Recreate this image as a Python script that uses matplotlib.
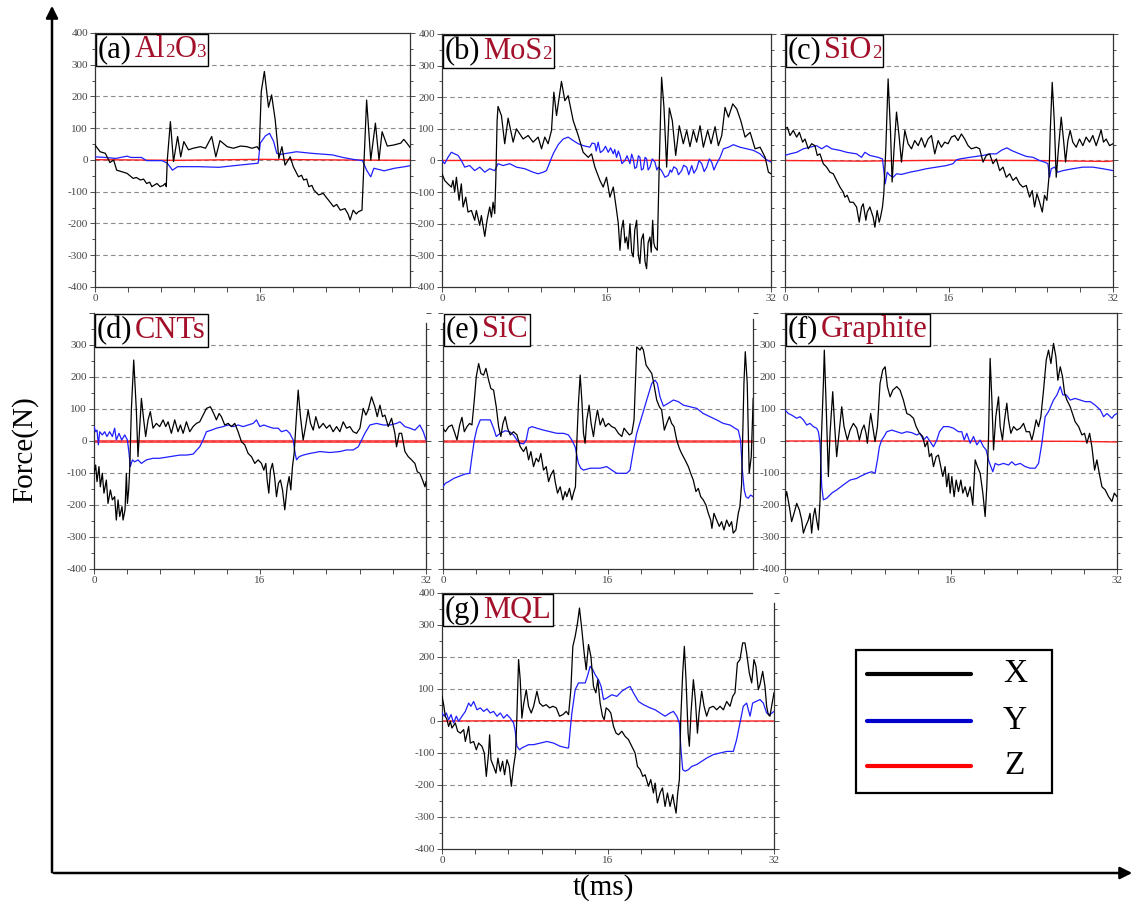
import matplotlib
matplotlib.use("Agg")
import matplotlib.pyplot as plt
import numpy as np
from matplotlib.lines import Line2D
from matplotlib.patches import FancyArrowPatch, Rectangle
from matplotlib.offsetbox import TextArea, HPacker, AnchoredOffsetbox

# ---------- data: (t in ms, force in N) ----------
A_X = [(0, 47), (0.5, 26), (1.0, 21), (1.45, -8), (1.8, 0), (2.1, -32), (2.6, -37), (3.1, -42), (3.4, -50),
       (3.7, -58), (4.0, -55), (4.4, -63), (4.7, -60), (5.0, -74), (5.3, -70), (5.5, -84), (6.0, -74),
       (6.3, -84), (6.6, -80), (6.8, -74), (6.9, -84), (7.0, 0), (7.3, 121), (7.6, -5), (8.0, 74), (8.3, 10),
       (8.6, 58), (9.05, 32), (9.5, 37), (10.2, 42), (10.7, 37), (11.3, 74), (11.7, 10), (12.1, 61), (12.8, 42),
       (13.4, 37), (14.1, 44), (14.7, 42), (15.2, 37), (15.7, 42), (15.9, 32), (16.1, 216), (16.4, 279),
       (16.8, 166), (17.1, 205), (17.45, 126), (17.8, 5), (18.1, 42), (18.4, -16), (18.9, 10), (19.2, -21),
       (19.7, -53), (20.0, -48), (20.2, -63), (20.5, -60), (20.7, -84), (21.0, -80), (21.2, -95), (21.65, -110),
       (22.1, -105), (22.4, -118), (22.6, -126), (23.1, -147), (23.4, -140), (23.75, -158), (24.2, -153),
       (24.5, -170), (24.7, -189), (25.0, -158), (25.3, -170), (25.5, -163), (25.85, -158), (26.0, -42),
       (26.3, 189), (26.5, 95), (26.7, 0), (27.15, 116), (27.5, 0), (27.8, 89), (28.3, 44), (28.9, 47),
       (29.6, 53), (29.9, 65), (30.2, 53), (30.5, 40)]
A_Y = [(0, 10), (1.0, 8), (2.0, 5), (3.1, 12), (3.5, 8), (4.5, 8), (5.0, -2), (6.5, -2), (7.0, -10), (7.5, -32),
       (8.0, -21), (10, -21), (12, -23), (14, -16), (15.8, -10), (16.0, 53), (16.5, 76), (16.9, 84), (17.3, 58),
       (17.6, 21), (18, 18), (19.5, 26), (21, 21), (23, 16), (24, 8), (25, 2), (25.9, -2), (26.3, -32),
       (26.7, -53), (27, -26), (28, -34), (29, -26), (30, -21), (30.5, -18)]
A_Z = [(0, 1), (8, -1), (16, 2), (24, 0), (30.5, -1)]

B_X = [(0, -42), (0.26, -63), (0.58, -74), (0.91, -84), (1.07, -63), (1.23, -100), (1.40, -53), (1.66, -126),
       (1.88, -74), (2.05, -147), (2.31, -116), (2.53, -163), (2.86, -158), (3.18, -189), (3.34, -158),
       (3.67, -205), (3.83, -174), (4.16, -240), (4.38, -189), (4.64, -147), (4.81, -179), (4.97, -132),
       (5.13, -168), (5.23, -63), (5.36, 126), (5.45, 171), (5.78, 142), (6.10, 53), (6.43, 134), (6.92, 58),
       (7.24, 100), (7.89, 68), (8.38, 79), (8.86, 58), (9.35, 74), (9.68, 37), (10.0, 74), (10.32, 53),
       (10.65, 95), (10.88, 216), (11.14, 142), (11.62, 250), (11.95, 189), (12.27, 205), (12.76, 126),
       (13.25, 79), (13.73, 26), (14.22, 10), (14.55, 21), (14.87, -21), (15.36, -63), (15.68, -84),
       (16.0, -53), (16.33, -116), (16.66, -84), (16.98, -158), (17.15, -200), (17.31, -284), (17.45, -220),
       (17.63, -189), (17.80, -260), (17.95, -242), (18.1, -280), (18.28, -200), (18.45, -290), (18.60, -305),
       (18.75, -220), (18.93, -189), (19.1, -300), (19.25, -326), (19.4, -250), (19.58, -232), (19.75, -320),
       (19.90, -342), (20.05, -260), (20.23, -242), (20.35, -290), (20.49, -189), (20.6, -260), (20.71, -274),
       (20.94, -284), (21.14, 0), (21.36, 263), (21.59, 168), (21.85, -21), (22.11, 166), (22.40, 126),
       (22.73, 16), (23.08, 110), (23.47, 53), (23.80, 95), (24.12, 44), (24.45, 95), (24.77, 58),
       (25.10, 110), (25.42, 42), (25.84, 95), (26.17, 53), (26.56, 107), (26.88, 47), (27.21, 79),
       (27.53, 168), (27.86, 137), (28.28, 179), (28.67, 163), (29.06, 126), (29.48, 74), (29.97, 89),
       (30.45, 37), (30.94, 42), (31.43, 10), (31.75, -37), (32, -42)]
B_Y = [(0, 0), (0.26, -10), (0.58, 10), (0.91, 26), (1.23, 21), (1.56, 16), (1.88, 0), (2.21, -21),
       (2.69, -16), (3.18, -32), (3.67, -21), (4.16, -37), (4.64, -26), (5.13, -32), (5.45, -10), (5.94, -16),
       (6.59, -10), (7.24, -21), (8.05, -26), (8.86, -37), (9.35, -42), (9.84, -37), (10.16, -32), (10.49, -5),
       (10.81, 21), (11.30, 50), (11.79, 68), (12.27, 74), (12.76, 63), (13.25, 53), (13.73, 47), (14.38, 42),
       (14.6, 55), (14.87, 53), (15.0, 30), (15.19, 58), (15.4, 25), (15.68, 32), (15.9, 45), (16.17, 26),
       (16.4, 40), (16.66, 21), (16.8, 35), (16.98, 10), (17.15, 30), (17.31, 16), (17.5, -10), (17.79, 0),
       (18.0, 15), (18.28, -10), (18.45, 20), (18.60, 5), (18.75, -25), (18.93, -21), (19.1, 15), (19.25, 10),
       (19.4, -30), (19.58, -26), (19.75, 10), (19.90, 5), (20.05, -30), (20.23, -21), (20.45, 5), (20.71, -5),
       (20.9, -30), (21.04, -21), (21.36, -32), (21.69, -53), (22.01, -47), (22.2, -30), (22.34, -37),
       (22.55, -20), (22.82, -26), (23.0, -45), (23.31, -32), (23.5, -15), (23.80, -21), (24.0, -45),
       (24.29, -16), (24.5, -40), (24.77, -26), (25.0, 0), (25.26, -10), (25.5, -35), (25.75, -21),
       (26.0, 5), (26.23, -5), (26.45, -30), (26.72, -10), (27.05, 10), (27.37, 37), (27.86, 42), (28.34, 50),
       (28.99, 42), (29.64, 37), (30.29, 32), (30.94, 21), (31.27, 10), (31.59, 2), (32, -5)]
B_Z = [(0, 0), (8, 1), (16, 0), (24, 1), (32, 0)]

C_X = [(0, 100), (0.23, 105), (0.49, 79), (0.81, 95), (1.14, 74), (1.40, 89), (1.72, 58), (1.95, 68),
       (2.27, 37), (2.60, 53), (2.92, 47), (3.15, 16), (3.41, 21), (3.73, -10), (4.06, -21), (4.38, -37),
       (4.71, -42), (5.03, -63), (5.36, -84), (5.68, -100), (5.84, -116), (6.07, -110), (6.33, -132),
       (6.66, -132), (6.98, -147), (7.24, -195), (7.47, -147), (7.63, -137), (7.89, -189), (8.02, -163),
       (8.28, -147), (8.60, -179), (8.77, -211), (8.99, -158), (9.19, -195), (9.32, -179), (9.51, -147),
       (9.64, -105), (9.84, 42), (10.06, 258), (10.29, 95), (10.45, -68), (10.65, 42), (10.88, 153),
       (11.14, 74), (11.36, -5), (11.69, 95), (12.01, 53), (12.34, 37), (12.66, 63), (12.99, 47), (13.31, 72),
       (13.64, 42), (13.96, 68), (14.29, 79), (14.61, 21), (14.94, 63), (15.26, 42), (15.58, 58), (15.91, 53),
       (16.23, 74), (16.56, 79), (16.88, 63), (17.21, 84), (17.53, 68), (17.86, 47), (18.18, 37), (18.67, 42),
       (18.99, 37), (19.32, -5), (19.64, 16), (19.97, 21), (20.29, -10), (20.62, 5), (20.94, -32), (21.27, -21),
       (21.59, -53), (21.92, -42), (22.24, -63), (22.56, -53), (22.89, -74), (23.21, -84), (23.54, -79),
       (23.86, -116), (24.12, -95), (24.35, -147), (24.58, -105), (24.84, -132), (25.10, -163), (25.32, -110),
       (25.55, -126), (25.75, -53), (25.88, 95), (26.07, 247), (26.27, 126), (26.46, -53), (26.69, 42),
       (26.95, 137), (27.18, 63), (27.37, -5), (27.60, 63), (27.82, 95), (28.08, 58), (28.41, 42), (28.73, 68),
       (29.06, 47), (29.38, 74), (29.71, 58), (30.03, 79), (30.36, 47), (30.68, 79), (30.84, 97), (31.07, 58),
       (31.33, 68), (31.66, 47), (32, 53)]
C_Y = [(0, 16), (0.49, 21), (1.14, 26), (1.79, 37), (2.44, 42), (3.08, 47), (3.57, 37), (4.06, 47), (4.55, 37),
       (5.36, 32), (6.01, 26), (6.98, 21), (7.47, 10), (7.79, 26), (8.28, 16), (9.09, 10), (9.51, 5),
       (9.64, -32), (9.77, -74), (9.97, -37), (10.23, -47), (10.55, -53), (10.88, -42), (11.36, -44),
       (12.18, -37), (12.99, -32), (13.80, -26), (14.77, -21), (15.75, -16), (16.40, -10), (16.72, 2),
       (17.05, 5), (18.02, 10), (18.67, 13), (19.32, 16), (19.97, 21), (20.62, 21), (21.10, 32), (21.43, 37),
       (21.66, 40), (22.08, 32), (22.89, 21), (23.54, 13), (24.19, 10), (24.84, 0), (25.32, -5), (25.65, -10),
       (25.81, -53), (25.97, -26), (26.30, -21), (26.62, -37), (27.11, -32), (28.08, -26), (29.06, -21),
       (30.03, -21), (31.01, -26), (32, -32)]
C_Z = [(0, 0), (7.5, -2), (16, 1), (24, 0), (31.5, -3), (32, -1)]

D_X = [(0, -101), (0.16, -75), (0.29, -127), (0.48, -80), (0.61, -143), (0.80, -101), (0.96, -163),
       (1.19, -122), (1.35, -195), (1.58, -153), (1.77, -184), (1.99, -174), (2.15, -247), (2.32, -184),
       (2.48, -236), (2.70, -205), (2.80, -247), (2.99, -215), (3.12, -101), (3.22, -195), (3.34, -153),
       (3.44, -91), (3.60, 97), (3.83, 253), (4.08, 97), (4.24, -49), (4.41, 45), (4.57, 133), (4.79, 66),
       (4.98, 14), (5.21, 66), (5.43, 92), (5.69, 40), (6.01, 55), (6.33, 45), (6.66, 66), (6.91, 45),
       (7.14, 60), (7.46, 24), (7.78, 66), (8.10, 29), (8.33, 50), (8.59, 24), (8.91, 60), (9.23, 29),
       (9.55, 45), (9.87, 55), (10.19, 60), (10.51, 81), (10.84, 102), (11.22, 107), (11.54, 86), (11.80, 66),
       (12.06, 86), (12.28, 76), (12.60, 50), (12.93, 55), (13.25, 45), (13.57, 55), (13.89, 29), (14.21, -2),
       (14.53, -12), (14.86, -39), (15.18, -49), (15.50, -70), (15.82, -59), (16.14, -70), (16.37, -91),
       (16.56, -70), (16.69, -122), (16.85, -163), (17.01, -91), (17.20, -70), (17.40, -111), (17.59, -174),
       (17.78, -132), (17.97, -122), (18.17, -153), (18.39, -215), (18.62, -143), (18.81, -111), (18.97, -153),
       (19.13, -80), (19.29, -39), (19.45, 45), (19.68, 159), (19.90, 76), (20.16, 3), (20.39, 45), (20.64, 97),
       (20.87, 55), (21.13, 34), (21.38, 76), (21.70, 40), (22.09, 55), (22.41, 40), (22.73, 50), (23.05, 29),
       (23.38, 45), (23.70, 29), (24.02, 60), (24.34, 40), (24.66, 45), (24.98, 29), (25.31, 24), (25.63, 40),
       (25.95, 102), (26.21, 81), (26.43, 97), (26.75, 138), (27.07, 107), (27.30, 76), (27.56, 112),
       (27.81, 76), (28.04, 81), (28.36, 45), (28.68, 71), (29.00, 24), (29.16, -18), (29.42, 24), (29.65, 24),
       (29.97, -33), (30.29, -49), (30.61, -59), (30.93, -70), (31.16, -96), (31.41, -101), (31.67, -122),
       (31.90, -143), (32, -127)]
D_Y = [(0, 45), (0.16, 29), (0.29, 34), (0.42, -12), (0.55, 29), (0.80, 19), (1.03, 29), (1.25, 14), (1.51, 29),
       (1.77, 14), (1.99, 40), (2.15, 3), (2.41, 24), (2.67, 3), (2.96, 19), (3.22, 3), (3.38, -39), (3.50, -80),
       (3.70, -59), (3.92, -65), (4.24, -59), (4.57, -70), (5.05, -59), (5.69, -54), (6.33, -54), (7.30, -49),
       (8.26, -44), (8.91, -44), (9.55, -41), (10.19, -18), (10.51, 3), (10.84, 29), (11.32, 34), (11.80, 40),
       (12.44, 45), (12.93, 50), (13.41, 45), (13.89, 50), (14.37, 45), (14.86, 50), (15.34, 55), (15.66, 66),
       (15.98, 45), (16.37, 50), (16.78, 45), (17.27, 40), (17.75, 40), (18.07, 29), (18.55, 34), (18.87, 24),
       (19.20, 3), (19.39, -39), (19.52, -59), (19.77, -49), (20.16, -44), (20.80, -39), (21.77, -33),
       (22.73, -36), (23.70, -33), (24.34, -28), (24.98, -28), (25.47, -18), (25.79, 3), (26.11, 24),
       (26.59, 50), (27.23, 55), (27.88, 50), (28.52, 50), (29.16, 55), (29.49, 60), (29.97, 45), (30.45, 40),
       (30.93, 34), (31.41, 50), (31.74, 29), (32, 3)]
D_Z = [(0, 0), (16, 0), (32, 0)]

E_X = [(0, 40), (0.23, 29), (0.55, 45), (0.87, 50), (1.10, 29), (1.36, 3), (1.62, 50), (1.84, 74), (2.07, 29),
       (2.33, 45), (2.59, 55), (2.81, 50), (3.04, 128), (3.23, 201), (3.46, 242), (3.68, 211), (3.94, 206),
       (4.17, 227), (4.43, 190), (4.65, 164), (4.91, 159), (5.17, 107), (5.40, 45), (5.62, 14), (5.82, 55),
       (6.04, 76), (6.27, 40), (6.53, 19), (6.85, 29), (7.18, 19), (7.50, -18), (7.82, -33), (8.08, -18),
       (8.31, -59), (8.53, -33), (8.79, -80), (9.05, -54), (9.28, -65), (9.50, -39), (9.76, -91), (10.02, -80),
       (10.25, -127), (10.47, -106), (10.73, -91), (10.89, -127), (11.12, -163), (11.38, -143), (11.64, -184),
       (11.86, -158), (12.02, -174), (12.28, -148), (12.51, -184), (12.67, -163), (12.86, -143), (12.99, -7),
       (13.15, 118), (13.32, 206), (13.48, 128), (13.64, 24), (13.80, -7), (13.96, 66), (14.19, 112),
       (14.38, 55), (14.61, 14), (14.77, 55), (15.00, 97), (15.26, 50), (15.51, 71), (15.77, 45), (16.06, 55),
       (16.39, 45), (16.71, 40), (17.03, 24), (17.36, 14), (17.58, 40), (17.84, 29), (18.10, 19), (18.33, 24),
       (18.55, 66), (18.81, 294), (19.13, 284), (19.30, 294), (19.46, 284), (19.72, 237), (20.04, 222),
       (20.27, 211), (20.52, 170), (20.75, 128), (21.01, 107), (21.23, 97), (21.49, 34), (21.72, 55),
       (21.98, 76), (22.20, 55), (22.43, 45), (22.69, 3), (22.95, -23), (23.17, -39), (23.50, -59),
       (23.82, -80), (24.05, -101), (24.30, -122), (24.56, -158), (24.79, -148), (25.02, -174), (25.27, -184),
       (25.53, -200), (25.76, -226), (25.99, -247), (26.11, -273), (26.31, -226), (26.57, -247), (26.83, -267),
       (27.05, -252), (27.28, -278), (27.54, -247), (27.80, -267), (28.02, -252), (28.18, -288), (28.44, -278),
       (28.67, -226), (28.83, -205), (28.99, -137), (29.09, 3), (29.22, 180), (29.35, 279), (29.54, 180),
       (29.73, -101), (29.93, -49), (30.12, 133)]
E_Y = [(0, -143), (0.23, -132), (0.55, -127), (1.03, -117), (1.68, -109), (2.17, -103), (2.59, -101),
       (2.81, -49), (3.04, 3), (3.30, 40), (3.62, 66), (4.10, 66), (4.59, 66), (4.91, 40), (5.17, 14),
       (5.56, 24), (6.04, 32), (6.46, 29), (6.85, 19), (7.18, 3), (7.50, -7), (7.82, -9), (8.08, 3), (8.31, 40),
       (8.63, 45), (9.11, 40), (9.76, 34), (10.41, 29), (11.05, 24), (11.70, 24), (12.18, 19), (12.51, 3),
       (12.83, -18), (13.15, -70), (13.38, -85), (13.64, -91), (14.29, -85), (15.26, -85), (15.90, -80),
       (16.39, -91), (16.87, -101), (17.84, -101), (18.16, -91), (18.49, -28), (18.81, 24), (19.30, 76),
       (19.78, 128), (20.27, 180), (20.59, 190), (20.81, 180), (21.07, 138), (21.40, 109), (21.88, 118),
       (22.37, 128), (22.85, 123), (23.34, 112), (23.98, 107), (24.63, 102), (25.27, 86), (25.92, 76),
       (26.57, 66), (27.21, 55), (27.86, 50), (28.35, 40), (28.67, 34), (28.89, 3), (29.09, -101),
       (29.25, -153), (29.41, -174), (29.64, -179), (29.86, -169), (30.12, -174)]
E_Z = [(0, 0), (15, 0), (30.1, 0)]

F_X = [(0, -184), (0.16, -158), (0.42, -205), (0.64, -252), (0.87, -226), (1.13, -195), (1.38, -215),
       (1.61, -247), (1.77, -288), (1.99, -267), (2.25, -247), (2.41, -226), (2.57, -288), (2.73, -236),
       (2.89, -210), (3.05, -247), (3.22, -278), (3.38, -184), (3.50, 3), (3.70, 180), (3.79, 284), (3.95, 128),
       (4.18, -111), (4.34, 24), (4.60, 154), (4.79, 45), (4.98, -49), (5.24, 34), (5.47, 107), (5.69, 45),
       (6.01, 3), (6.27, 34), (6.59, 55), (6.91, 40), (7.17, 3), (7.40, 34), (7.62, 50), (7.81, 24), (7.94, -7),
       (8.14, 55), (8.26, 86), (8.46, 45), (8.68, -2), (8.91, 45), (9.16, 180), (9.42, 222), (9.65, 232),
       (9.87, 170), (10.13, 138), (10.39, 159), (10.77, 170), (11.09, 159), (11.41, 128), (11.74, 86),
       (12.06, 81), (12.38, 71), (12.64, 45), (12.96, 24), (13.28, 14), (13.50, -18), (13.73, -2), (13.92, -49),
       (14.12, -39), (14.31, -80), (14.57, -49), (14.79, -44), (15.02, -80), (15.21, -111), (15.43, -80),
       (15.59, -143), (15.76, -101), (15.92, -163), (16.08, -111), (16.30, -174), (16.50, -122), (16.72, -158),
       (16.95, -122), (17.14, -163), (17.36, -143), (17.59, -174), (17.85, -143), (18.10, -200), (18.33, -59),
       (18.55, -80), (18.81, -101), (19.07, -163), (19.29, -236), (19.45, -143), (19.61, 3), (19.77, 258),
       (19.94, 128), (20.10, -28), (20.32, 76), (20.58, 138), (20.74, 45), (20.96, 3), (21.16, 66),
       (21.38, 118), (21.54, 66), (21.77, 24), (22.03, 45), (22.35, 34), (22.67, 40), (22.99, 55), (23.25, 29),
       (23.57, 29), (23.79, 3), (23.95, 24), (24.21, 66), (24.44, 45), (24.66, 76), (24.92, 159), (25.18, 253),
       (25.40, 284), (25.63, 242), (25.88, 305), (26.11, 263), (26.30, 190), (26.53, 232), (26.75, 201),
       (26.95, 149), (27.17, 128), (27.49, 107), (27.75, 81), (27.97, 60), (28.30, 45), (28.62, 19),
       (28.87, 24), (29.10, -7), (29.36, 24), (29.58, -18), (29.84, -91), (30.06, -59), (30.29, -101),
       (30.55, -143), (30.87, -153), (31.19, -174), (31.51, -189), (31.74, -163), (32, -174)]
F_Y = [(0, 97), (0.32, 86), (0.64, 81), (1.13, 71), (1.45, 76), (1.77, 66), (2.09, 50), (2.41, 55), (2.73, 45),
       (3.05, 40), (3.22, 29), (3.38, -7), (3.54, -143), (3.70, -184), (4.02, -179), (4.50, -163), (4.98, -153),
       (5.63, -137), (6.27, -122), (6.91, -117), (7.23, -111), (7.88, -101), (8.36, -96), (8.68, -101),
       (8.91, -59), (9.10, -18), (9.32, 3), (9.55, 14), (9.81, 29), (10.29, 34), (10.77, 29), (11.25, 24),
       (11.74, 29), (12.22, 26), (12.70, 19), (13.02, 24), (13.34, 3), (13.67, 14), (13.99, -2), (14.31, -18),
       (14.63, 3), (14.89, 29), (15.27, 45), (15.76, 45), (16.24, 40), (16.72, 29), (17.04, 29), (17.27, 3),
       (17.52, 24), (17.85, -7), (18.17, 14), (18.49, -12), (18.81, 3), (19.13, -18), (19.39, -28), (19.61, -59),
       (19.84, -80), (20.03, -96), (20.26, -70), (20.58, -75), (21.06, -70), (21.54, -75), (21.86, -65),
       (22.19, -75), (22.67, -70), (23.15, -80), (23.63, -85), (24.12, -85), (24.44, -70), (24.76, -7),
       (25.08, 76), (25.40, 92), (25.88, 128), (26.21, 144), (26.53, 170), (26.78, 144), (27.11, 144),
       (27.49, 128), (27.97, 133), (28.46, 128), (28.94, 123), (29.42, 123), (29.90, 112), (30.39, 97),
       (30.71, 76), (31.03, 86), (31.51, 71), (31.74, 81), (32, 86)]
F_Z = [(0, 0), (16, 0), (28, -1), (32, -3)]

G_X = [(0, 77), (0.16, 51), (0.32, 15), (0.48, 4), (0.64, -17), (0.80, -1), (0.96, -22), (1.28, -6), (1.51, -32),
       (1.77, -38), (2.09, -27), (2.25, -64), (2.57, -17), (2.73, -69), (3.05, -64), (3.31, -90), (3.53, -69),
       (3.85, -79), (4.08, -100), (4.27, -173), (4.49, -100), (4.59, -43), (4.72, -121), (4.97, -142),
       (5.20, -163), (5.39, -116), (5.62, -157), (5.84, -126), (6.03, -168), (6.26, -121), (6.48, -142),
       (6.68, -204), (6.90, -142), (7.09, -100), (7.22, 15), (7.38, 192), (7.54, 129), (7.70, 9), (7.86, 51),
       (8.12, 98), (8.34, 46), (8.60, 25), (8.83, 46), (9.15, 93), (9.40, 56), (9.72, 46), (10.04, 51),
       (10.37, 41), (10.69, 46), (11.01, 41), (11.33, 15), (11.65, 20), (11.97, 30), (12.20, 20), (12.42, 98),
       (12.61, 233), (12.84, 265), (13.06, 306), (13.25, 353), (13.48, 285), (13.70, 213), (13.90, 160),
       (14.12, 239), (14.35, 202), (14.60, 108), (14.83, 88), (15.02, 129), (15.24, 56), (15.47, 15),
       (15.63, 4), (15.82, 41), (16.05, 35), (16.27, 25), (16.53, -17), (16.78, -38), (17.01, -43),
       (17.33, -32), (17.65, -48), (17.97, -58), (18.29, -79), (18.61, -100), (18.84, -142), (19.10, -152),
       (19.35, -173), (19.58, -168), (19.90, -204), (20.12, -183), (20.38, -225), (20.54, -194), (20.76, -256),
       (21.02, -225), (21.25, -209), (21.50, -267), (21.73, -225), (21.98, -267), (22.24, -230), (22.37, -256),
       (22.56, -288), (22.72, -225), (22.88, -183), (23.01, 4), (23.20, 150), (23.36, 233), (23.52, 129),
       (23.72, -38), (23.84, -79), (24.00, 25), (24.23, 129), (24.42, 67), (24.62, -38), (24.78, 25),
       (25.03, 93), (25.26, 46), (25.51, 15), (25.77, 41), (26.15, 46), (26.48, 35), (26.80, 46), (27.12, 35),
       (27.44, 61), (27.76, 46), (28.02, 77), (28.24, 88), (28.47, 181), (28.72, 192), (28.98, 244),
       (29.20, 244), (29.36, 213), (29.62, 150), (29.85, 119), (30.07, 192), (30.26, 171), (30.49, 98),
       (30.65, 114), (30.91, 155), (31.13, 108), (31.29, 46), (31.45, 20), (31.61, 15), (31.77, 46), (32, 88)]
G_Y = [(0, 25), (0.22, 15), (0.42, 25), (0.64, 4), (0.87, 20), (1.12, -6), (1.38, 15), (1.60, -1), (1.93, 15),
       (2.25, 30), (2.57, 56), (2.79, 46), (3.05, 61), (3.37, 35), (3.69, 41), (4.01, 30), (4.33, 38),
       (4.65, 25), (4.97, 30), (5.30, 15), (5.62, 25), (5.94, 9), (6.26, 20), (6.58, 9), (6.90, -6),
       (7.06, -32), (7.22, -79), (7.48, -90), (7.70, -84), (8.02, -79), (8.34, -74), (8.83, -74), (9.47, -69),
       (10.11, -64), (10.75, -69), (11.39, -79), (12.03, -84), (12.20, -84), (12.36, -27), (12.52, 25),
       (12.84, 98), (13.16, 119), (13.48, 119), (13.80, 119), (14.02, 140), (14.28, 171), (14.54, 160),
       (14.76, 145), (15.08, 129), (15.34, 108), (15.57, 67), (15.89, 72), (16.37, 82), (16.85, 77),
       (17.33, 93), (17.81, 103), (18.13, 108), (18.45, 88), (18.94, 61), (19.42, 51), (20.06, 41), (20.54, 35),
       (21.02, 25), (21.50, 15), (21.98, 25), (22.30, 30), (22.63, 15), (22.88, -6), (23.01, -79), (23.20, -152),
       (23.43, -157), (23.75, -152), (24.07, -142), (24.55, -136), (25.03, -126), (25.51, -116), (26.15, -105),
       (26.80, -100), (27.44, -95), (28.08, -95), (28.40, -58), (28.72, -6), (29.04, 46), (29.36, 56),
       (29.69, 15), (29.94, 56), (30.26, 61), (30.65, 67), (30.97, 56), (31.29, 25), (31.61, 20), (32, 30)]
G_Z = [(0, 0), (10, 1), (20, 0), (32, 0)]

LABELS = ["(a)", "(b)", "(c)", "(d)", "(e)", "(f)", "(g)"]
# "_" marks the next character as a subscript
MATERIALS = ["Al_2O_3", "MoS_2", "SiO_2", "CNTs", "SiC", "Graphite", "MQL"]
LEGEND_NAMES = ["X", "Y", "Z"]

# ---------- style ----------
plt.rcParams.update({
    "font.family": "serif",
    "font.serif": ["Liberation Serif", "DejaVu Serif"],
    "axes.unicode_minus": False,
})

W, H = 1136, 907
COL_X = "black"
COL_Y = "#1f1fff"
COL_Z = "#ff1f1f"
MAT_COLOR = "#a3102a"
GRID_COL = "#8a8a8a"
SPINE_COL = "#333333"
BOX_FS = 22


def fig_axes(fig, x0, y0, x1, y1):
    return fig.add_axes([x0 / W, 1 - y1 / H, (x1 - x0) / W, (y1 - y0) / H])


def material_parts(name):
    parts = []
    i = 0
    while i < len(name):
        if name[i] == "_":
            parts.append(TextArea(name[i + 1], textprops=dict(color=MAT_COLOR, fontsize=BOX_FS * 0.62)))
            i += 2
        else:
            j = i
            while j < len(name) and name[j] != "_":
                j += 1
            parts.append(TextArea(name[i:j], textprops=dict(color=MAT_COLOR, fontsize=BOX_FS)))
            i = j
    return parts


def draw_panel(fig, box, xlim, xdata, ydata, zdata, label, material, opts):
    ax = fig_axes(fig, *box)
    ax.set_facecolor("none")
    ax.set_xlim(*xlim)
    ax.set_ylim(-400, 400)

    for lvl in range(-300, 301, 100):
        ax.axhline(lvl, color=GRID_COL, lw=0.8, ls=(0, (4, 3)), zorder=0)

    zw = opts.get("zw", 1.0)
    for data, col, lw, zo in [(zdata, COL_Z, zw, 2), (ydata, COL_Y, 0.9, 3), (xdata, COL_X, 0.9, 4)]:
        t, v = np.array(data, dtype=float).T
        ax.plot(t, v, color=col, lw=lw, zorder=zo, alpha=0.75 if (col == COL_Z and zw > 1) else 1)

    xt = np.arange(0, 32.01, 3.2)
    xt = xt[xt <= xlim[1] + 0.01]
    ax.set_xticks(xt)
    ax.set_xticklabels([f"{int(round(v))}" if round(v, 1) in (0.0, 16.0, 32.0) else "" for v in xt])
    yt = np.arange(-400, 401, 100)
    ax.set_yticks(yt)
    ax.set_yticks(np.arange(-350, 400, 100), minor=True)
    ymax_lab = opts.get("ymax_lab", 400)
    ax.set_yticklabels([str(v) if v <= ymax_lab else "" for v in yt])

    ax.tick_params(axis="both", which="both", direction="out", colors=SPINE_COL, labelcolor="#444444",
                   labelsize=8, width=0.6)
    ax.tick_params(axis="both", which="major", length=3.5, pad=1.5)
    ax.tick_params(axis="y", which="minor", length=2.5)
    ax.tick_params(axis="y", which="both", left=True, right=True,
                   labelleft=opts.get("labelleft", True), labelright=opts.get("labelright", False))

    for s in ax.spines.values():
        s.set_color(SPINE_COL)
        s.set_linewidth(0.9)
    if not opts.get("top", True):
        ax.spines["top"].set_visible(False)
    if "top_bounds" in opts:
        ax.spines["top"].set_bounds(*opts["top_bounds"])
    if "right_bounds" in opts:
        ax.spines["right"].set_bounds(*opts["right_bounds"])
    if "left_bounds" in opts:
        ax.spines["left"].set_bounds(*opts["left_bounds"])

    t1 = TextArea(label, textprops=dict(color="black", fontsize=BOX_FS))
    mat = HPacker(children=material_parts(material), align="baseline", pad=0, sep=0)
    pack = HPacker(children=[t1, mat], align="baseline", pad=0, sep=2)
    anch = AnchoredOffsetbox(loc="upper left", child=pack, pad=0.14, borderpad=0, frameon=True,
                             bbox_to_anchor=(0.003, 0.998), bbox_transform=ax.transAxes)
    anch.patch.set_edgecolor("black")
    anch.patch.set_linewidth(1.0)
    anch.zorder = 6
    ax.add_artist(anch)
    return ax


fig = plt.figure(figsize=(W / 100, H / 100), dpi=100)
fig.patch.set_facecolor("white")

panels = [
    ((95, 33, 410, 287), (0, 30.5), A_X, A_Y, A_Z, {}),
    ((442, 34, 771, 287), (0, 32), B_X, B_Y, B_Z, {}),
    ((785, 34, 1113, 287), (0, 32), C_X, C_Y, C_Z, {"labelleft": False}),
    ((94, 313, 426, 569), (0, 32), D_X, D_Y, D_Z,
     {"top": False, "right_bounds": (-400, 370), "ymax_lab": 300, "zw": 2.2}),
    ((443, 313, 753, 569), (0, 30.1), E_X, E_Y, E_Z,
     {"top": False, "labelleft": False, "labelright": True, "right_bounds": (-400, 380),
      "left_bounds": (-400, 370), "ymax_lab": 300, "zw": 2.0}),
    ((785, 313, 1117, 569), (0, 32), F_X, F_Y, F_Z, {"labelleft": False}),
    ((442, 593, 774, 849), (0, 32), G_X, G_Y, G_Z,
     {"top_bounds": (0, 29.9), "right_bounds": (-400, 370)}),
]
for i, (box, xlim, xd, yd, zd, opts) in enumerate(panels):
    draw_panel(fig, box, xlim, xd, yd, zd, LABELS[i], MATERIALS[i], opts)

# outer axes with arrows
tf = fig.transFigure
fig.add_artist(FancyArrowPatch((52 / W, 1 - 875 / H), (52 / W, 1 - 3 / H), transform=tf,
                               arrowstyle="-|>", mutation_scale=18, lw=1.8, color="black"))
fig.add_artist(FancyArrowPatch((51 / W, 1 - 873 / H), (1135 / W, 1 - 873 / H), transform=tf,
                               arrowstyle="-|>", mutation_scale=18, lw=1.8, color="black"))
fig.text(25 / W, 1 - 450 / H, "Force(N)", rotation=90, ha="center", va="center", fontsize=21)
fig.text(603 / W, 1 - 888 / H, "t(ms)", ha="center", va="center", fontsize=21)

# legend box
fig.add_artist(Rectangle((856 / W, 1 - 793 / H), (1052 - 856) / W, (793 - 650) / H, transform=tf,
                         fill=False, lw=1.6, edgecolor="black"))
for name, col, yy in zip(LEGEND_NAMES, ["black", "#0000cc", "#ff0000"], [674, 721, 766]):
    fig.add_artist(Line2D([867 / W, 971 / W], [1 - yy / H, 1 - yy / H], transform=tf, color=col, lw=3,
                          solid_capstyle="round"))
    fig.text(1015 / W, 1 - yy / H, name, ha="center", va="center", fontsize=24)

fig.savefig("out.png", dpi=100)
